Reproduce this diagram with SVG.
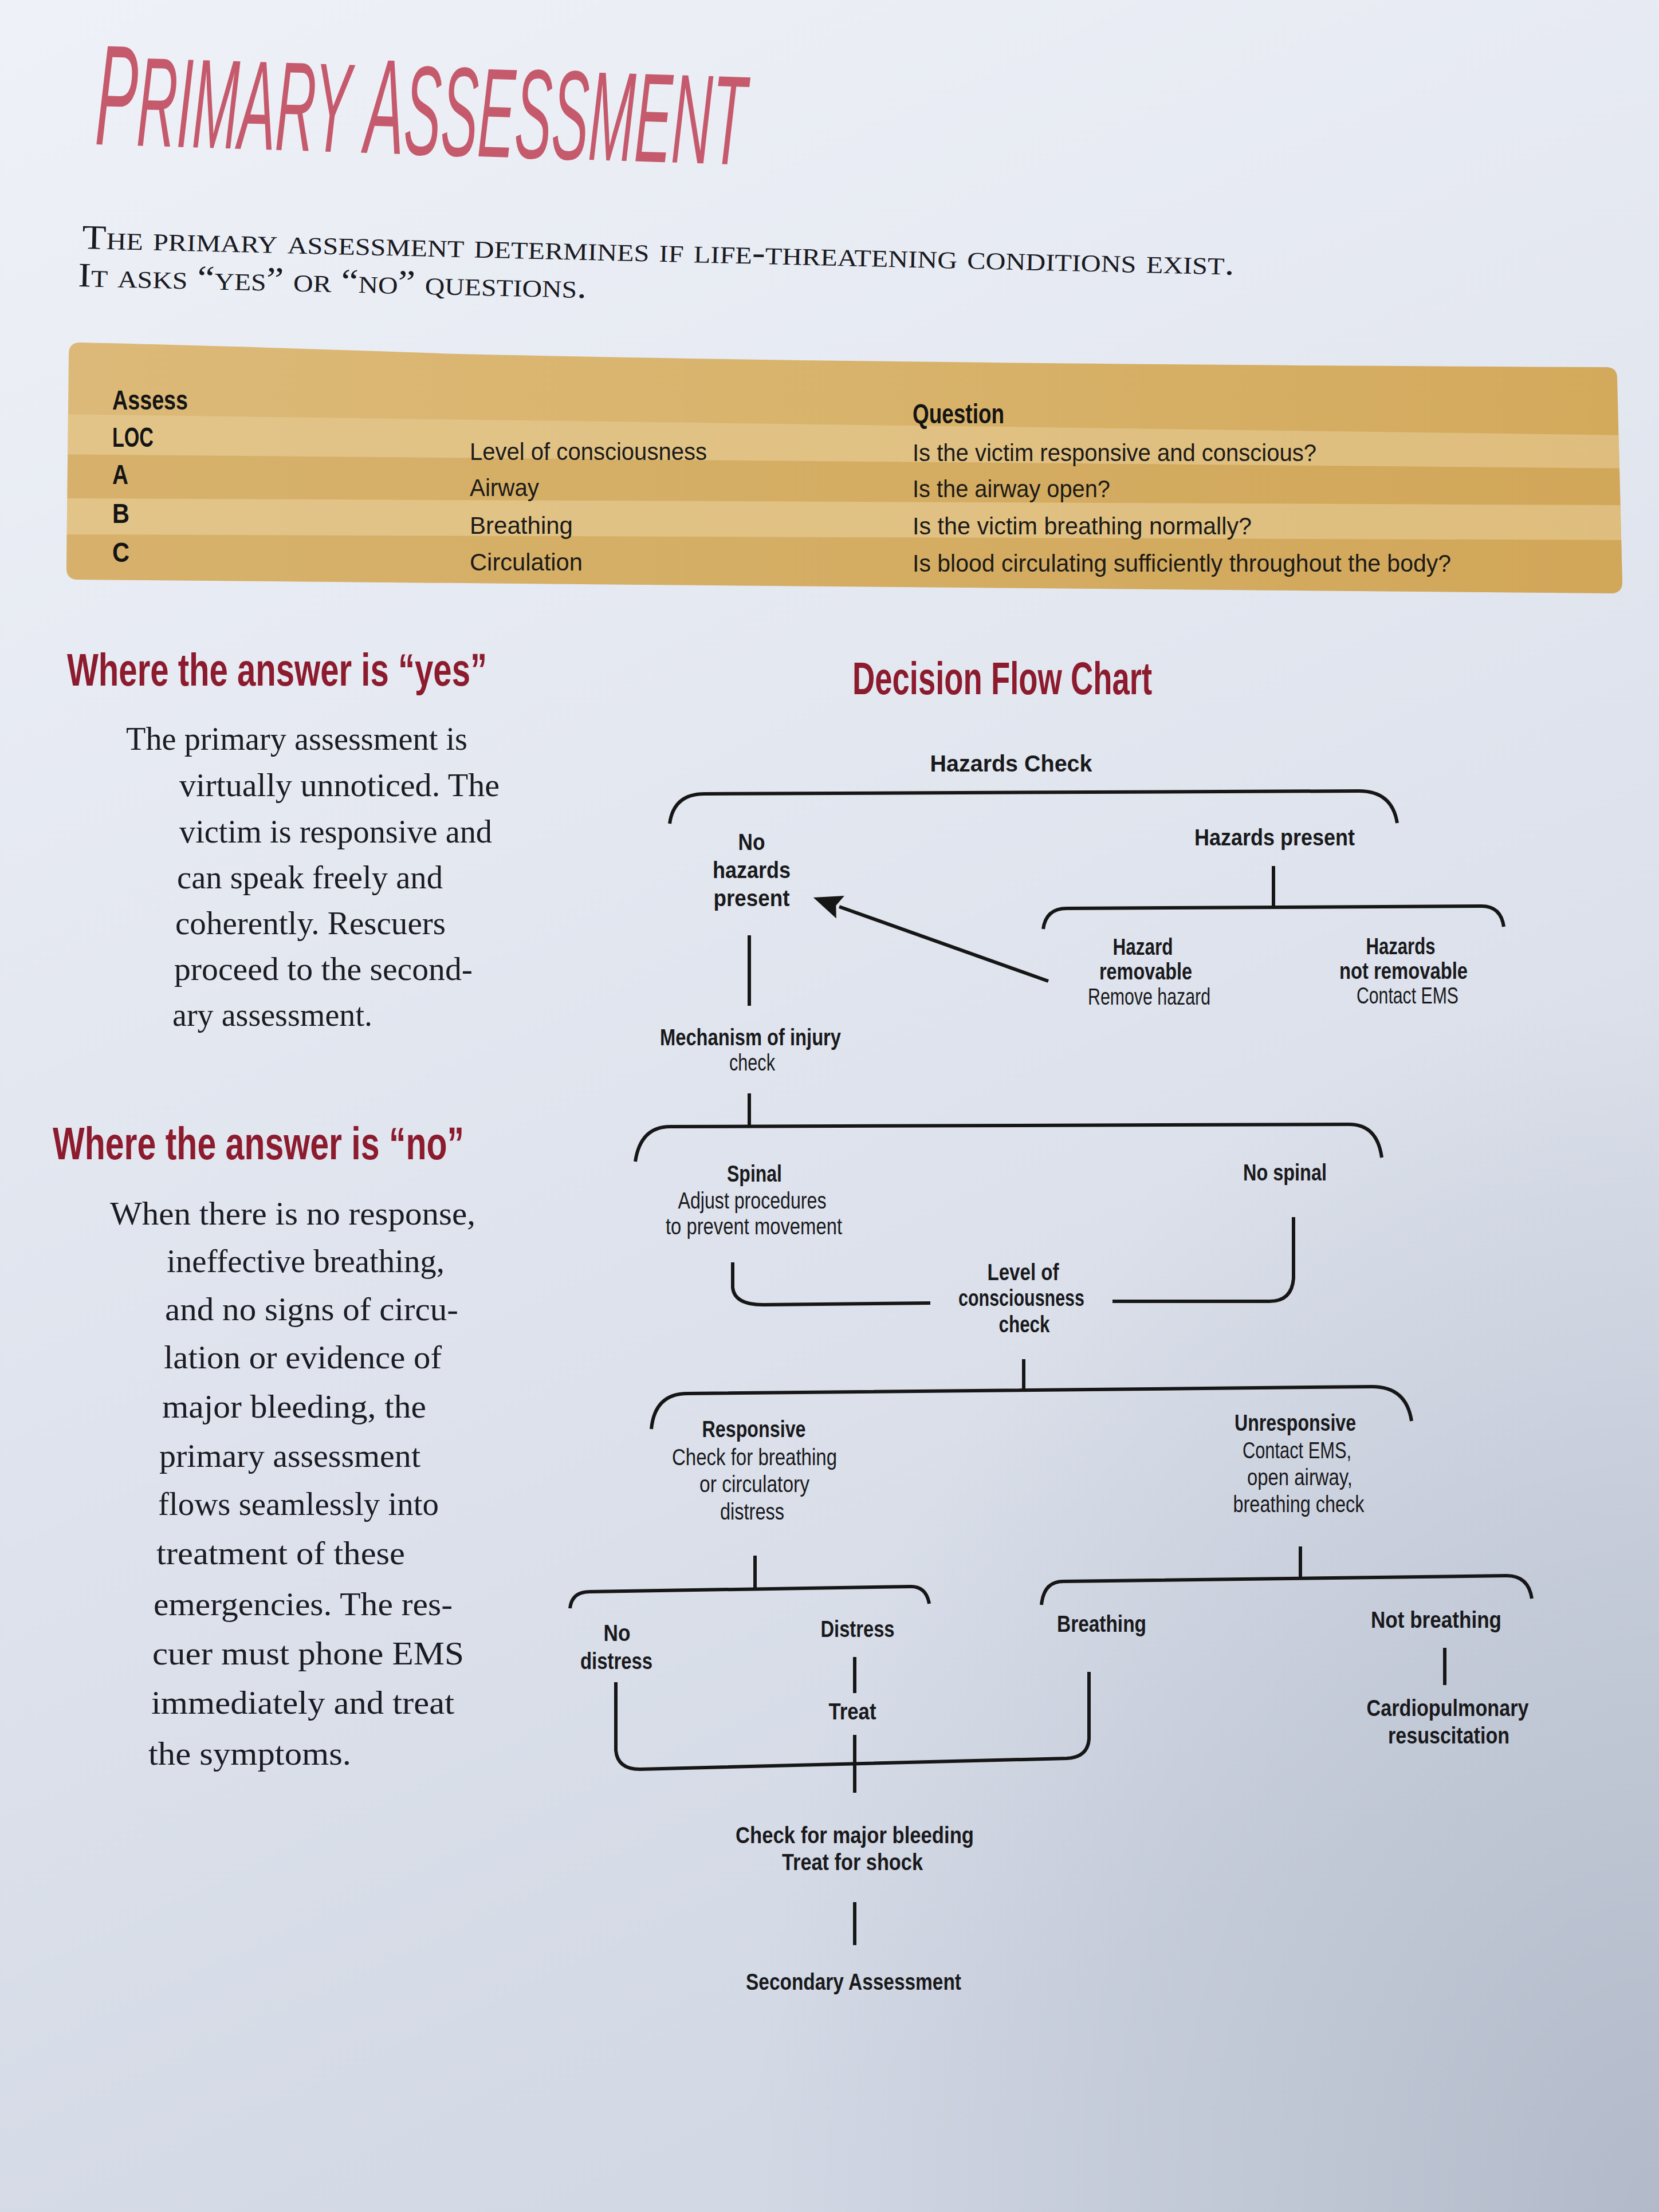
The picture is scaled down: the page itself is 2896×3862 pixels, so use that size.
<svg xmlns="http://www.w3.org/2000/svg" width="2896" height="3862" viewBox="0 0 2896 3862">
<defs>
<linearGradient id="bg" x1="0" y1="0" x2="0.35" y2="1">
<stop offset="0" stop-color="#eef1f7"/>
<stop offset="0.45" stop-color="#e3e7f0"/>
<stop offset="1" stop-color="#d2d8e4"/>
</linearGradient>
<radialGradient id="shade" cx="1" cy="1" r="0.55">
<stop offset="0" stop-color="#aab2c2" stop-opacity="0.8"/>
<stop offset="1" stop-color="#aab2c2" stop-opacity="0"/>
</radialGradient>
<linearGradient id="gold" x1="0" y1="0" x2="1" y2="0">
<stop offset="0" stop-color="#dcb978"/>
<stop offset="0.5" stop-color="#d8b36b"/>
<stop offset="1" stop-color="#d3a95c"/>
</linearGradient>
<clipPath id="bandclip">
<path d="M140 598 Q120 598 120 618 L116 992 Q116 1012 136 1012 L2812 1036 Q2832 1036 2832 1016 L2823 660 Q2823 641 2803 641 Q1600 636 800 618 Q400 604 140 598 Z"/>
</clipPath>
<marker id="ah" markerUnits="userSpaceOnUse" markerWidth="60" markerHeight="60" viewBox="0 -30 60 60" refX="2" refY="0" orient="auto">
<path d="M0,-21 L50,0 L0,21 L8,0 Z" fill="#161616"/>
</marker>
<style>
.title{font-family:"Liberation Sans",Arial,sans-serif;font-style:italic;fill:#c65a6d}
.sub{font-family:"Liberation Serif","Times New Roman",serif;font-variant:small-caps;font-size:60px;fill:#1a1a22}
.tb{font-family:"Liberation Sans",Arial,sans-serif;font-weight:bold;font-size:48px;fill:#141414}
.tr{font-family:"Liberation Sans",Arial,sans-serif;font-size:42px;fill:#1c1a16}
.head{font-family:"Liberation Sans",Arial,sans-serif;font-weight:bold;font-size:80px;fill:#8c1b2e}
.body{font-family:"Liberation Serif","Times New Roman",serif;font-size:58px;fill:#1b1b22}
.fb{font-family:"Liberation Sans",Arial,sans-serif;font-weight:bold;font-size:40px;fill:#19191c;text-anchor:middle}
.fr{font-family:"Liberation Sans",Arial,sans-serif;font-size:40px;fill:#19191c;text-anchor:middle}
.conn{stroke:#161616;stroke-width:6;fill:none;stroke-linecap:butt}
</style>
</defs>

<rect x="0" y="0" width="2896" height="3862" fill="url(#bg)"/>
<rect x="0" y="0" width="2896" height="3862" fill="url(#shade)"/>

<g id="title">
<text class="title" x="165" y="252" transform="rotate(1.8 165 252)" textLength="1135" lengthAdjust="spacingAndGlyphs"><tspan font-size="250">P</tspan><tspan font-size="222">RIMARY </tspan><tspan font-size="236">A</tspan><tspan font-size="222">SSESSMENT</tspan></text>
</g>

<g id="subtitle">
<text class="sub" x="143" y="434" transform="rotate(1.3 143 434)" textLength="2012" lengthAdjust="spacingAndGlyphs">The primary assessment determines if life-threatening conditions exist.</text>
<text class="sub" x="136" y="500" transform="rotate(1.3 136 500)" textLength="888" lengthAdjust="spacingAndGlyphs">It asks “yes” or “no” questions.</text>
</g>

<g id="table">
<path d="M140 598 Q120 598 120 618 L116 992 Q116 1012 136 1012 L2812 1036 Q2832 1036 2832 1016 L2823 660 Q2823 641 2803 641 Q1600 636 800 618 Q400 604 140 598 Z" fill="url(#gold)"/>
<g clip-path="url(#bandclip)">
<polygon points="100,723 2850,760 2850,818 100,793" fill="#e6cc95" opacity="0.6"/>
<polygon points="100,793 2850,818 2850,882 100,870" fill="#cfa356" opacity="0.35"/>
<polygon points="100,870 2850,882 2850,943 100,933" fill="#e6cc95" opacity="0.6"/>
<polygon points="100,933 2850,943 2850,1050 100,1050" fill="#cfa356" opacity="0.35"/>
</g>
<text class="tb" x="196" y="715" textLength="132" lengthAdjust="spacingAndGlyphs">Assess</text>
<text class="tb" x="196" y="780" textLength="72" lengthAdjust="spacingAndGlyphs">LOC</text>
<text class="tb" x="196" y="845" textLength="28" lengthAdjust="spacingAndGlyphs">A</text>
<text class="tb" x="196" y="913" textLength="30" lengthAdjust="spacingAndGlyphs">B</text>
<text class="tb" x="196" y="981" textLength="30" lengthAdjust="spacingAndGlyphs">C</text>
<text class="tr" x="820" y="803" textLength="414" lengthAdjust="spacingAndGlyphs">Level of consciousness</text>
<text class="tr" x="820" y="866" textLength="121" lengthAdjust="spacingAndGlyphs">Airway</text>
<text class="tr" x="820" y="932" textLength="180" lengthAdjust="spacingAndGlyphs">Breathing</text>
<text class="tr" x="820" y="996" textLength="197" lengthAdjust="spacingAndGlyphs">Circulation</text>
<text class="tb" x="1593" y="739" font-size="46" textLength="160" lengthAdjust="spacingAndGlyphs">Question</text>
<text class="tr" x="1593" y="805" textLength="705" lengthAdjust="spacingAndGlyphs">Is the victim responsive and conscious?</text>
<text class="tr" x="1593" y="868" textLength="345" lengthAdjust="spacingAndGlyphs">Is the airway open?</text>
<text class="tr" x="1593" y="933" textLength="592" lengthAdjust="spacingAndGlyphs">Is the victim breathing normally?</text>
<text class="tr" x="1593" y="998" textLength="940" lengthAdjust="spacingAndGlyphs">Is blood circulating sufficiently throughout the body?</text>
</g>

<g id="yes-section">
<text class="head" x="117" y="1197" textLength="733" lengthAdjust="spacingAndGlyphs">Where the answer is “yes”</text>
<text class="body" x="220" y="1309" textLength="596" lengthAdjust="spacingAndGlyphs">The primary assessment is</text>
<text class="body" x="313" y="1390" textLength="559" lengthAdjust="spacingAndGlyphs">virtually unnoticed. The</text>
<text class="body" x="313" y="1471" textLength="546" lengthAdjust="spacingAndGlyphs">victim is responsive and</text>
<text class="body" x="309" y="1551" textLength="464" lengthAdjust="spacingAndGlyphs">can speak freely and</text>
<text class="body" x="306" y="1631" textLength="472" lengthAdjust="spacingAndGlyphs">coherently. Rescuers</text>
<text class="body" x="304" y="1711" textLength="521" lengthAdjust="spacingAndGlyphs">proceed to the second-</text>
<text class="body" x="301" y="1791" textLength="349" lengthAdjust="spacingAndGlyphs">ary assessment.</text>
</g>

<g id="no-section">
<text class="head" x="92" y="2024" textLength="718" lengthAdjust="spacingAndGlyphs">Where the answer is “no”</text>
<text class="body" x="192" y="2138" textLength="638" lengthAdjust="spacingAndGlyphs">When there is no response,</text>
<text class="body" x="291" y="2221" textLength="485" lengthAdjust="spacingAndGlyphs">ineffective breathing,</text>
<text class="body" x="288" y="2305" textLength="512" lengthAdjust="spacingAndGlyphs">and no signs of circu-</text>
<text class="body" x="286" y="2389" textLength="485" lengthAdjust="spacingAndGlyphs">lation or evidence of</text>
<text class="body" x="283" y="2475" textLength="461" lengthAdjust="spacingAndGlyphs">major bleeding, the</text>
<text class="body" x="278" y="2561" textLength="456" lengthAdjust="spacingAndGlyphs">primary assessment</text>
<text class="body" x="276" y="2645" textLength="490" lengthAdjust="spacingAndGlyphs">flows seamlessly into</text>
<text class="body" x="273" y="2731" textLength="434" lengthAdjust="spacingAndGlyphs">treatment of these</text>
<text class="body" x="268" y="2820" textLength="522" lengthAdjust="spacingAndGlyphs">emergencies. The res-</text>
<text class="body" x="266" y="2906" textLength="544" lengthAdjust="spacingAndGlyphs">cuer must phone EMS</text>
<text class="body" x="264" y="2992" textLength="529" lengthAdjust="spacingAndGlyphs">immediately and treat</text>
<text class="body" x="259" y="3081" textLength="354" lengthAdjust="spacingAndGlyphs">the symptoms.</text>
</g>

<g id="chart-title">
<text class="head" x="1488" y="1212" textLength="523" lengthAdjust="spacingAndGlyphs">Decision Flow Chart</text>
</g>

<g id="connectors">
<path class="conn" d="M1169 1438 Q1176 1386 1230 1386 L2372 1381 Q2430 1381 2439 1437"/>
<path class="conn" d="M2223 1512 L2223 1583"/>
<path class="conn" d="M1821 1622 Q1826 1586 1862 1586 L2586 1582 Q2620 1582 2625 1618"/>
<path class="conn" d="M1830 1713 L1465 1583" marker-end="url(#ah)"/>
<path class="conn" d="M1308 1633 L1308 1756"/>
<path class="conn" d="M1308 1909 L1308 1966"/>
<path class="conn" d="M1109 2028 Q1118 1967 1170 1967 L2355 1963 Q2404 1963 2412 2021"/>
<path class="conn" d="M1279 2204 L1279 2248 Q1282 2278 1332 2278 L1624 2275"/>
<path class="conn" d="M2258 2125 L2258 2232 Q2255 2272 2216 2272 L1942 2272"/>
<path class="conn" d="M1787 2373 L1787 2426"/>
<path class="conn" d="M1137 2495 Q1143 2433 1200 2433 L2395 2421 Q2455 2421 2464 2481"/>
<path class="conn" d="M1318 2716 L1318 2775"/>
<path class="conn" d="M995 2808 Q998 2779 1030 2779 L1590 2770 Q1617 2770 1622 2800"/>
<path class="conn" d="M2270 2700 L2270 2757"/>
<path class="conn" d="M1818 2802 Q1822 2761 1856 2761 L2630 2751 Q2668 2751 2674 2791"/>
<path class="conn" d="M1492 2893 L1492 2956"/>
<path class="conn" d="M2522 2877 L2522 2942"/>
<path class="conn" d="M1075 2937 L1075 3056 Q1078 3089 1117 3089 L1862 3070 Q1899 3068 1901 3036 L1901 2919"/>
<path class="conn" d="M1492 3029 L1492 3130"/>
<path class="conn" d="M1492 3321 L1492 3396"/>
</g>

<g id="node-hazards-check"><text class="fb" x="1765" y="1347" textLength="283" lengthAdjust="spacingAndGlyphs">Hazards Check</text></g>
<g id="node-no-hazards">
<text class="fb" x="1312" y="1484" textLength="47" lengthAdjust="spacingAndGlyphs">No</text>
<text class="fb" x="1312" y="1533" textLength="136" lengthAdjust="spacingAndGlyphs">hazards</text>
<text class="fb" x="1312" y="1582" textLength="133" lengthAdjust="spacingAndGlyphs">present</text>
</g>
<g id="node-hazards-present"><text class="fb" x="2225" y="1476" textLength="280" lengthAdjust="spacingAndGlyphs">Hazards present</text></g>
<g id="node-hazard-removable">
<text class="fb" x="1995" y="1667" textLength="105" lengthAdjust="spacingAndGlyphs">Hazard</text>
<text class="fb" x="2000" y="1710" textLength="162" lengthAdjust="spacingAndGlyphs">removable</text>
<text class="fr" x="2006" y="1754" textLength="214" lengthAdjust="spacingAndGlyphs">Remove hazard</text>
</g>
<g id="node-hazards-not-removable">
<text class="fb" x="2445" y="1666" textLength="121" lengthAdjust="spacingAndGlyphs">Hazards</text>
<text class="fb" x="2450" y="1709" textLength="224" lengthAdjust="spacingAndGlyphs">not removable</text>
<text class="fr" x="2457" y="1752" textLength="178" lengthAdjust="spacingAndGlyphs">Contact EMS</text>
</g>
<g id="node-mechanism">
<text class="fb" x="1310" y="1825" textLength="316" lengthAdjust="spacingAndGlyphs">Mechanism of injury</text>
<text class="fr" x="1313" y="1869" textLength="80" lengthAdjust="spacingAndGlyphs">check</text>
</g>
<g id="node-spinal">
<text class="fb" x="1317" y="2063" textLength="96" lengthAdjust="spacingAndGlyphs">Spinal</text>
<text class="fr" x="1313" y="2110" textLength="259" lengthAdjust="spacingAndGlyphs">Adjust procedures</text>
<text class="fr" x="1316" y="2155" textLength="308" lengthAdjust="spacingAndGlyphs">to prevent movement</text>
</g>
<g id="node-no-spinal"><text class="fb" x="2243" y="2061" textLength="146" lengthAdjust="spacingAndGlyphs">No spinal</text></g>
<g id="node-loc">
<text class="fb" x="1786" y="2235" textLength="125" lengthAdjust="spacingAndGlyphs">Level of</text>
<text class="fb" x="1783" y="2280" textLength="220" lengthAdjust="spacingAndGlyphs">consciousness</text>
<text class="fb" x="1788" y="2326" textLength="89" lengthAdjust="spacingAndGlyphs">check</text>
</g>
<g id="node-responsive">
<text class="fb" x="1316" y="2509" textLength="181" lengthAdjust="spacingAndGlyphs">Responsive</text>
<text class="fr" x="1317" y="2558" textLength="288" lengthAdjust="spacingAndGlyphs">Check for breathing</text>
<text class="fr" x="1317" y="2605" textLength="192" lengthAdjust="spacingAndGlyphs">or circulatory</text>
<text class="fr" x="1313" y="2653" textLength="112" lengthAdjust="spacingAndGlyphs">distress</text>
</g>
<g id="node-unresponsive">
<text class="fb" x="2261" y="2498" textLength="212" lengthAdjust="spacingAndGlyphs">Unresponsive</text>
<text class="fr" x="2264" y="2546" textLength="190" lengthAdjust="spacingAndGlyphs">Contact EMS,</text>
<text class="fr" x="2269" y="2593" textLength="184" lengthAdjust="spacingAndGlyphs">open airway,</text>
<text class="fr" x="2267" y="2640" textLength="229" lengthAdjust="spacingAndGlyphs">breathing check</text>
</g>
<g id="node-no-distress">
<text class="fb" x="1077" y="2865" textLength="47" lengthAdjust="spacingAndGlyphs">No</text>
<text class="fb" x="1076" y="2914" textLength="126" lengthAdjust="spacingAndGlyphs">distress</text>
</g>
<g id="node-distress"><text class="fb" x="1497" y="2858" textLength="129" lengthAdjust="spacingAndGlyphs">Distress</text></g>
<g id="node-breathing"><text class="fb" x="1923" y="2849" textLength="156" lengthAdjust="spacingAndGlyphs">Breathing</text></g>
<g id="node-not-breathing"><text class="fb" x="2507" y="2842" textLength="228" lengthAdjust="spacingAndGlyphs">Not breathing</text></g>
<g id="node-treat"><text class="fb" x="1488" y="3002" textLength="83" lengthAdjust="spacingAndGlyphs">Treat</text></g>
<g id="node-cpr">
<text class="fb" x="2527" y="2996" textLength="283" lengthAdjust="spacingAndGlyphs">Cardiopulmonary</text>
<text class="fb" x="2529" y="3044" textLength="212" lengthAdjust="spacingAndGlyphs">resuscitation</text>
</g>
<g id="node-bleeding">
<text class="fb" x="1492" y="3218" textLength="416" lengthAdjust="spacingAndGlyphs">Check for major bleeding</text>
<text class="fb" x="1488" y="3265" textLength="246" lengthAdjust="spacingAndGlyphs">Treat for shock</text>
</g>
<g id="node-secondary"><text class="fb" x="1490" y="3474" textLength="376" lengthAdjust="spacingAndGlyphs">Secondary Assessment</text></g>
</svg>
